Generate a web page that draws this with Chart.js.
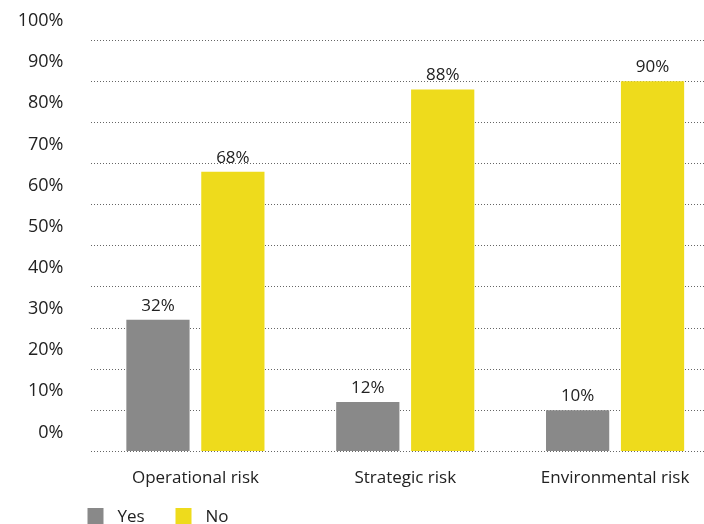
<!DOCTYPE html>
<html lang="en">
<head>
  <meta charset="UTF-8" />
  <title>Risk chart</title>
  <script src="https://cdn.jsdelivr.net/npm/chart.js"></script>
  <style>
    html, body { margin: 0; padding: 0; background: #fff; overflow: hidden; }
    #wrap { width: 720px; height: 524px; }
  </style>
</head>
<body>
  <div id="wrap"><canvas id="riskChart"></canvas></div>

  <script>
    // Data
    const categories = ["Operational risk", "Strategic risk", "Environmental risk"];
    const yesValues = [32, 12, 10];
    const noValues = [68, 88, 90];
    const seriesNames = ["Yes", "No"];
    const seriesColors = ["#898989", "#eedb1c"];
    const yTicks = [0, 10, 20, 30, 40, 50, 60, 70, 80, 90, 100];

    const FONT = "'Open Sans', sans-serif";

    // value labels above bars
    const barLabels = {
      id: "barLabels",
      afterDatasetsDraw(chart) {
        const ctx = chart.ctx;
        ctx.save();
        ctx.font = "17px " + FONT;
        ctx.fillStyle = "#222";
        ctx.textAlign = "center";
        ctx.textBaseline = "alphabetic";
        chart.data.datasets.forEach((ds, i) => {
          chart.getDatasetMeta(i).data.forEach((bar, j) => {
            ctx.fillText(ds.data[j] + "%", bar.x, bar.y - 9);
          });
        });
        ctx.restore();
      }
    };

    // legend squares at the bottom left
    const bottomLegend = {
      id: "bottomLegend",
      afterDraw(chart) {
        const ctx = chart.ctx;
        const area = chart.chartArea;
        ctx.save();
        ctx.font = "17px " + FONT;
        ctx.textBaseline = "middle";
        ctx.textAlign = "left";
        chart.data.datasets.forEach((ds, i) => {
          const x = area.left - 3 + i * 88;
          const y = area.bottom + 56.5;
          ctx.fillStyle = ds.backgroundColor;
          ctx.fillRect(x, y, 16, 16);
          ctx.fillStyle = "#222";
          ctx.fillText(ds.label, x + 30, y + 9);
        });
        ctx.restore();
      }
    };

    new Chart(document.getElementById("riskChart"), {
      type: "bar",
      data: {
        labels: categories,
        datasets: [
          { label: seriesNames[0], data: yesValues, backgroundColor: seriesColors[0] },
          { label: seriesNames[1], data: noValues, backgroundColor: seriesColors[1] }
        ]
      },
      options: {
        responsive: true,
        maintainAspectRatio: false,
        animation: false,
        layout: { padding: { top: 40, right: 0, left: 0, bottom: 0 } },
        datasets: { bar: { categoryPercentage: 0.714, barPercentage: 0.844 } },
        plugins: {
          legend: { display: false },
          tooltip: { enabled: false }
        },
        scales: {
          x: {
            grid: { display: false },
            border: { display: false },
            ticks: { color: "#222", font: { family: FONT, size: 17 }, padding: 8 },
            afterFit(scale) { scale.height = 72.5; }
          },
          y: {
            min: 0,
            max: 100,
            afterBuildTicks(scale) { scale.ticks = yTicks.map(v => ({ value: v })); },
            grid: {
              color: "#666",
              lineWidth: 1,
              drawTicks: false
            },
            border: { display: false, dash: [1, 2] },
            ticks: {
              color: "#222",
              font: { family: FONT, size: 18 },
              padding: 27,
              labelOffset: -19,
              callback: v => v + "%"
            },
            afterFit(scale) { scale.width = 90.5; }
          }
        }
      },
      plugins: [barLabels, bottomLegend]
    });
  </script>
</body>
</html>
